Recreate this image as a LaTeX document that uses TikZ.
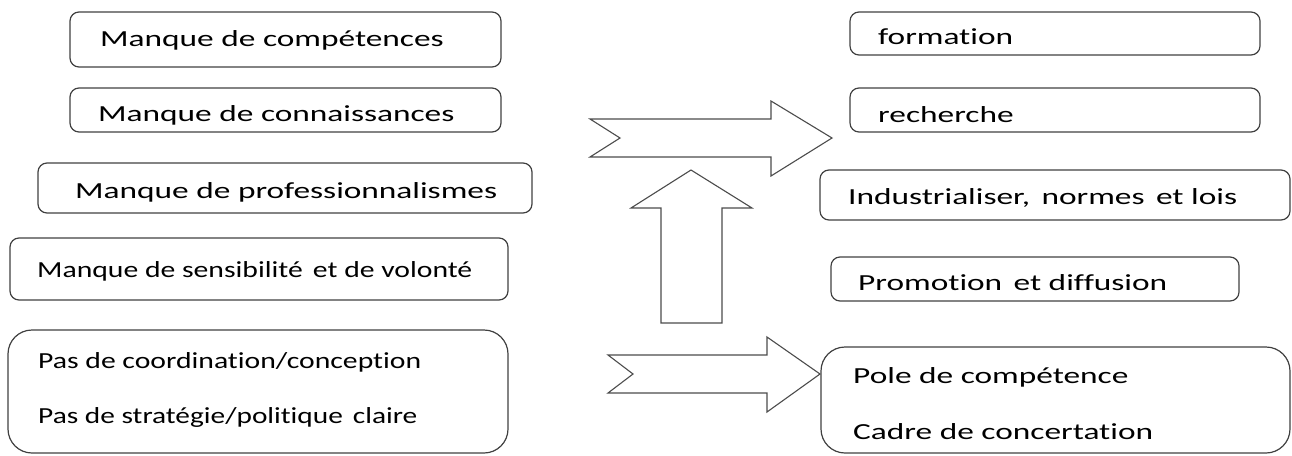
\documentclass[tikz,border=0pt]{standalone}
\usepackage{fontspec}
\setmainfont{Carlito}[FakeStretch=1.45, Ligatures={NoCommon}]
\tikzset{
  box/.style={draw=black!75, line width=1.2pt, rounded corners=9pt, inner sep=0pt, outer sep=0pt},
  bigbox/.style={box, rounded corners=24pt},
  txt/.style={anchor=west, inner sep=0pt, text=black, font=\fontsize{23}{28}\selectfont},
  blockarrow/.style={draw=black!70, line width=1.1pt, fill=white, line join=miter}
}
\begin{document}
\begin{tikzpicture}[x=1pt,y=-1pt]
\useasboundingbox (0,0) rectangle (1292,455);
% left boxes
\node[box, minimum width=431pt, minimum height=55pt] (b1) at (285.5,39.5) {};
\node[box, minimum width=431pt, minimum height=44pt] (b2) at (285.5,110) {};
\node[box, minimum width=494pt, minimum height=50pt] (b3) at (285,188) {};
\node[box, minimum width=498pt, minimum height=62pt] (b4) at (259,269) {};
\node[bigbox, minimum width=500pt, minimum height=123pt] (b5) at (258,391.5) {};
\node[txt] (t1) at (100,40) {Manque de compétences};
\node[txt] (t2) at (98,115) {Manque de connaissances};
\node[txt] (t3) at (75,192) {Manque de professionnalismes};
\node[txt] (t4) at (37,271) {\scalebox{0.89}[1]{Manque de sensibilité\, et de volonté}};
\node[txt] (t5a) at (38,362) {\scalebox{0.89}[1]{Pas de coordination/conception}};
\node[txt] (t5b) at (38,417) {\scalebox{0.88}[1]{Pas de stratégie/politique\, claire}};
% right boxes
\node[box, minimum width=410pt, minimum height=43pt] (r1) at (1055,33.5) {};
\node[box, minimum width=410pt, minimum height=44pt] (r2) at (1055,110) {};
\node[box, minimum width=470pt, minimum height=50pt] (r3) at (1055,195) {};
\node[box, minimum width=408pt, minimum height=44pt] (r4) at (1035,279) {};
\node[bigbox, minimum width=469pt, minimum height=106pt] (r5) at (1055.5,400) {};
\node[txt] (u1) at (878,37) {formation};
\node[txt] (u2) at (878,115) {recherche};
\node[txt] (u3) at (848,198) {Industrialiser,\, normes\, et lois};
\node[txt] (u4) at (858,283) {Promotion\, et diffusion};
\node[txt] (u5a) at (853,377) {Pole de compétence};
\node[txt] (u5b) at (853,432) {Cadre de concertation};
% block arrows
\draw[blockarrow] (590,119) -- (771,119) -- (771,101) -- (832,138) -- (771,176) -- (771,157) -- (590,157) -- (620,138) -- cycle;
\draw[blockarrow] (661,323) -- (661,208) -- (631,208) -- (691,170) -- (752,208) -- (722,208) -- (722,323) -- cycle;
\draw[blockarrow] (608,355) -- (767,355) -- (767,337) -- (820,374) -- (767,412) -- (767,393) -- (608,393) -- (633,374) -- cycle;
\end{tikzpicture}
\end{document}
